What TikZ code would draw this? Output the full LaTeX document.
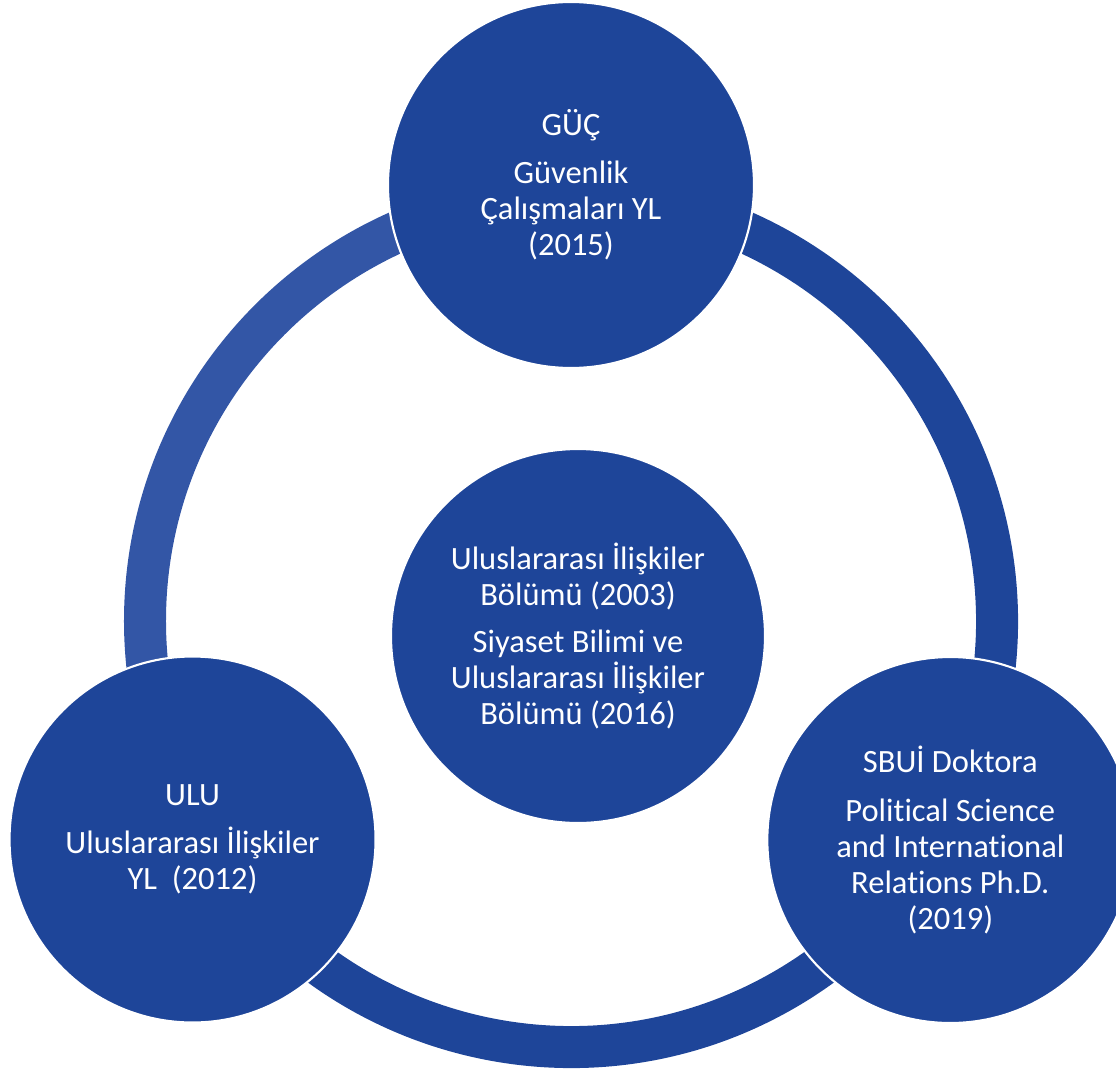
\documentclass[tikz,border=0pt]{standalone}
\usepackage{fontspec}
\setmainfont{Carlito}[Ligatures=NoCommon]
\definecolor{ringblue}{HTML}{1E4599}
\definecolor{ringlight}{HTML}{3356A6}

\begin{document}
\begin{tikzpicture}[
  every node/.style={font=\fontsize{18.5}{20.5}\selectfont, text=white},
  circ/.style={circle, fill=ringblue, draw=white, line width=1.2pt, minimum size=7.32cm, inner sep=0pt, align=center},
  ring/.style={line width=0.84cm, draw=ringblue}
]
\useasboundingbox (-11.42,-8.96) rectangle (10.9,12.42);

\coordinate (hub) at (0,0);

% Ring
\draw[ring, draw=ringlight] ([shift={(90:8.52)}]hub) arc (90:210:8.52);
\draw[ring] ([shift={(210:8.52)}]hub) arc (210:330:8.52);
\draw[ring] ([shift={(330:8.52)}]hub) arc (330:450:8.52);

% Middle
\node[circ, minimum size=7.48cm] (bolum) at (0.14,-0.3) {Uluslararası İlişkiler\\Bölümü (2003)\\[6pt]Siyaset Bilimi ve\\Uluslararası İlişkiler\\Bölümü (2016)};

% Outer circles
\node[circ] (guc) at (90:8.72) {GÜÇ\\[7pt]Güvenlik\\Çalışmaları YL\\(2015)};
\node[circ] (ulu) at (210:8.74) {ULU\\[7pt]Uluslararası İlişkiler\\YL\ \ (2012)};
\node[circ] (sbui) at (330:8.76) {SBUİ Doktora\\[7pt]Political Science\\and International\\Relations Ph.D.\\(2019)};

\end{tikzpicture}
\end{document}
